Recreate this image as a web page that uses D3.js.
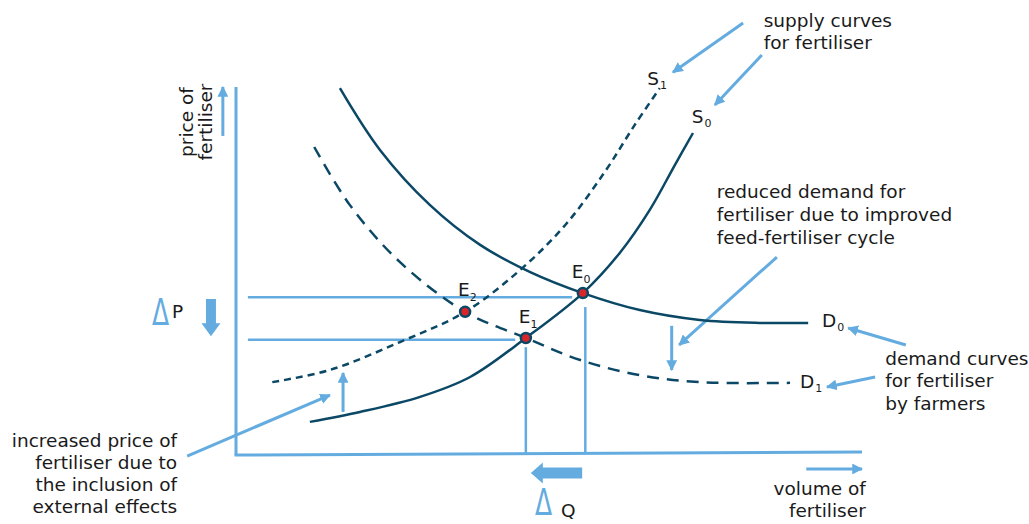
<!DOCTYPE html>
<html>
<head>
<meta charset="utf-8">
<script src="https://cdn.jsdelivr.net/npm/d3@7/dist/d3.min.js"></script>
<style>
  html, body { margin: 0; padding: 0; background: #fff; }
  svg text { font-family: Verdana, "DejaVu Sans", sans-serif; fill: #1a1a1a; }
</style>
</head>
<body>
<svg id="chart" width="1029" height="524"></svg>
<script>
// ---- data (quantity 0-100, price 0-100) ----
const demandD0 = [[16.6,99.7],[23.0,82.9],[31.0,67.9],[39.0,57.1],[47.0,49.7],[55.4,44.0],[64.5,39.4],[74.1,36.7],[83.7,35.9],[91.4,35.9]];
const demandD1 = [[12.5,83.7],[18.2,67.9],[26.2,52.4],[36.6,38.9],[46.3,31.8],[55.0,25.8],[64.5,21.7],[74.1,19.8],[88.5,19.6]];
const supplyS0 = [[11.8,9.0],[19.8,11.7],[29.4,15.8],[37.4,21.2],[46.3,31.8],[55.4,44.0],[61.3,54.9],[66.1,66.6],[70.1,78.8],[73.0,87.5]];
const supplyS1 = [[5.8,19.8],[15.0,23.1],[26.2,30.7],[36.6,38.9],[45.4,50.3],[52.6,62.5],[58.9,76.9],[63.7,89.7],[67.7,99.7]];

const equilibria = [
  {name:"E", sub:"0", q:55.4, p:44.0},
  {name:"E", sub:"1", q:46.3, p:31.8},
  {name:"E", sub:"2", q:36.6, p:38.9}
];
const priceLevels = [ {p:42.9, from:1.9, to:53.7}, {p:31.3, from:1.9, to:44.6} ];
const qtyLevels = [ {q:46.3, from:29.3, to:0.5}, {q:55.8, from:40.2, to:0.5} ];

const curveLabels = [
  {name:"S", sub:"1", q:65.7, p:100.5},
  {name:"S", sub:"0", q:72.8, p:90.2},
  {name:"D", sub:"0", q:93.6, p:34.8},
  {name:"D", sub:"1", q:90.1, p:18.2}
];

// annotation arrows [from, to]
const annotationArrows = [
  [[81.0,117.4],[69.8,104.0]],
  [[84.0,108.7],[76.5,95.1]],
  [[86.4,53.8],[70.8,29.9]],
  [[69.6,35.1],[69.6,23.1]],
  [[107.0,29.9],[97.8,34.5]],
  [[102.1,21.2],[94.4,18.5]],
  [[-7.8,-0.3],[15.0,16.3]],
  [[17.1,11.7],[17.1,22.3]],
  [[-2.1,86.7],[-2.1,100.0]],
  [[91.1,-3.8],[100.0,-3.8]]
];

const notes = [
  {lines:["supply curves","for fertiliser"], q:84.3, p:116.3, gap:21.5, anchor:"start"},
  {lines:["reduced demand for","fertiliser due to improved","feed-fertiliser cycle"], q:76.8, p:69.8, gap:23, anchor:"start"},
  {lines:["demand curves","for fertiliser","by farmers"], q:103.7, p:24.5, gap:22.5, anchor:"start"},
  {lines:["increased price of","fertiliser due to","the inclusion of","external effects"], q:-9.4, p:2.2, gap:22, anchor:"end"},
  {lines:["volume of","fertiliser"], q:100.6, p:-10.9, gap:22, anchor:"end"}
];
const yTitle = ["price of","fertiliser"];

// ---- setup ----
const navy = "#0b4866";
const blue = "#64ace0";
const red = "#d8262b";
const FS = 18.5;
const svg = d3.select("#chart");
const x = d3.scaleLinear().domain([0,100]).range([236,862]);
const y = d3.scaleLinear().domain([0,100]).range([455,87]);

const defs = svg.append("defs");
defs.append("marker").attr("id","ah").attr("viewBox","0 0 10 10")
  .attr("refX",9).attr("refY",5).attr("markerWidth",3.6).attr("markerHeight",3.6)
  .attr("markerUnits","strokeWidth").attr("orient","auto")
  .append("path").attr("d","M0,0 L10,5 L0,10 Z").attr("fill",blue);

// axes
svg.append("line").attr("x1",x(0)).attr("x2",x(0)).attr("y1",y(100)).attr("y2",y(0))
  .attr("stroke",blue).attr("stroke-width",3);
svg.append("line").attr("x1",x(0)-1.5).attr("x2",x(100)).attr("y1",y(0)).attr("y2",y(0.8))
  .attr("stroke",blue).attr("stroke-width",3);

// guide lines
svg.selectAll(".hg").data(priceLevels).join("line")
  .attr("x1",d=>x(d.from)).attr("x2",d=>x(d.to)).attr("y1",d=>y(d.p)).attr("y2",d=>y(d.p))
  .attr("stroke",blue).attr("stroke-width",2.5);
svg.selectAll(".vg").data(qtyLevels).join("line")
  .attr("x1",d=>x(d.q)).attr("x2",d=>x(d.q)).attr("y1",d=>y(d.from)).attr("y2",d=>y(d.to))
  .attr("stroke",blue).attr("stroke-width",2.5);

// annotation arrows
svg.selectAll(".ann").data(annotationArrows).join("line")
  .attr("x1",d=>x(d[0][0])).attr("y1",d=>y(d[0][1]))
  .attr("x2",d=>x(d[1][0])).attr("y2",d=>y(d[1][1]))
  .attr("stroke",blue).attr("stroke-width",3).attr("marker-end","url(#ah)");

// thick arrows (delta P down, delta Q left)
function thickArrow(x1,y1,x2,y2,shaft,head,headLen){
  const ang = Math.atan2(y2-y1,x2-x1), len = Math.hypot(x2-x1,y2-y1);
  const g = svg.append("g").attr("transform",`translate(${x1},${y1}) rotate(${ang*180/Math.PI})`);
  g.append("path").attr("fill",blue)
    .attr("d",`M0,${-shaft/2} L${len-headLen},${-shaft/2} L${len-headLen},${-head/2} L${len},0 L${len-headLen},${head/2} L${len-headLen},${shaft/2} L0,${shaft/2} Z`);
}
thickArrow(x(-4.0), y(42.4), x(-4.0), y(32.3), 10, 19, 13);
thickArrow(x(55.3), y(-4.9), x(47.1), y(-4.9), 11, 21, 12);

// curves
const line = d3.line().x(d=>x(d[0])).y(d=>y(d[1])).curve(d3.curveCatmullRom.alpha(0.5));
svg.append("path").attr("d",line(demandD0)).attr("fill","none").attr("stroke",navy).attr("stroke-width",2.5);
svg.append("path").attr("d",line(supplyS0)).attr("fill","none").attr("stroke",navy).attr("stroke-width",2.5);
svg.append("path").attr("d",line(demandD1)).attr("fill","none").attr("stroke",navy).attr("stroke-width",2.5).attr("stroke-dasharray","12 8");
svg.append("path").attr("d",line(supplyS1)).attr("fill","none").attr("stroke",navy).attr("stroke-width",2.5).attr("stroke-dasharray","7 5");

// equilibrium points
svg.selectAll(".eq").data(equilibria).join("circle")
  .attr("cx",d=>x(d.q)).attr("cy",d=>y(d.p)).attr("r",5)
  .attr("fill",red).attr("stroke",navy).attr("stroke-width",2.5);
const eqOff = [[-11,-15],[-7,-15],[-7,-16]];
svg.selectAll(".eql").data(equilibria).join("text")
  .attr("x",(d,i)=>x(d.q)+eqOff[i][0]).attr("y",(d,i)=>y(d.p)+eqOff[i][1])
  .attr("font-size",FS)
  .each(function(d){
    const t = d3.select(this);
    t.append("tspan").text(d.name);
    t.append("tspan").attr("font-size",11).attr("dy",5).text(d.sub);
  });

// curve labels
svg.selectAll(".cl").data(curveLabels).join("text")
  .attr("x",d=>x(d.q)).attr("y",d=>y(d.p)).attr("font-size",FS)
  .each(function(d){
    const t = d3.select(this);
    t.append("tspan").text(d.name);
    t.append("tspan").attr("font-size",11).attr("dy",4).attr("dx",1).text(d.sub);
  });

// notes
notes.forEach(n=>{
  const t = svg.append("text").attr("x",x(n.q)).attr("y",y(n.p)).attr("font-size",FS).attr("text-anchor",n.anchor);
  n.lines.forEach((l,i)=>t.append("tspan").attr("x",x(n.q)).attr("dy",i===0?0:n.gap).text(l));
});

// y title
yTitle.forEach((l,i)=>{
  svg.append("text").attr("transform",`translate(${193+i*19},${122}) rotate(-90)`)
    .attr("text-anchor","middle").attr("font-size",FS).text(l);
});

// delta labels
svg.append("text").attr("transform","translate(152,325) scale(0.66,1)").attr("font-size",38).style("fill",blue).text("Δ");
svg.append("text").attr("x",172).attr("y",318).attr("font-size",FS).text("P");
svg.append("text").attr("transform","translate(535,515) scale(0.66,1)").attr("font-size",38).style("fill",blue).text("Δ");
svg.append("text").attr("x",561).attr("y",517).attr("font-size",FS).text("Q");
</script>
</body>
</html>
